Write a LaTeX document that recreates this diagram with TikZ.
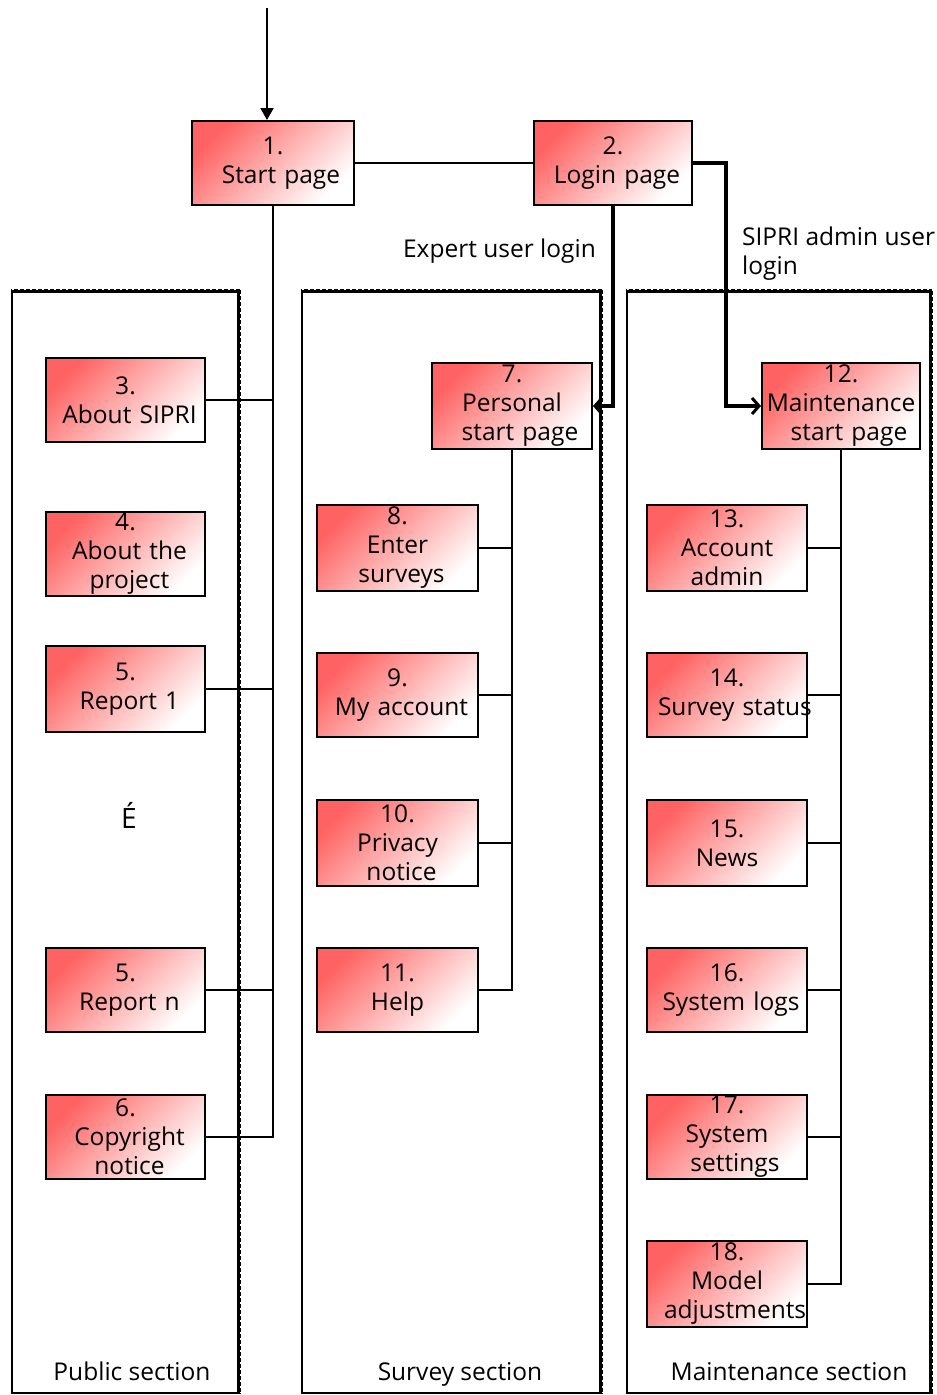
\documentclass[tikz,border=0pt]{standalone}
\usepackage{fontspec}
\setmainfont{Open Sans}
\usetikzlibrary{arrows.meta}
\definecolor{boxred}{RGB}{255,98,98}
\newcommand{\sh}{\hspace*{8pt}}
\newcommand{\shh}{\hspace*{16pt}}
\tikzset{
  pg/.style={draw, line width=2pt, align=center, inner sep=0pt,
    text width=156pt,
    minimum width=160pt, minimum height=85pt,
    top color=boxred, bottom color=white, shading angle=45,
    font=\fontsize{24.5}{29}\selectfont},
  conn/.style={line width=2pt},
  thickconn/.style={line width=4pt, -{Straight Barb[length=7pt,width=16pt,line width=3pt]}},
  secbase/.style={line width=2pt},
  secedge/.style={line width=4.5pt},
  secdots/.style={white, line width=0.9pt, dash pattern=on 1.5pt off 4.5pt},
  lbl/.style={font=\fontsize{24.5}{29}\selectfont, inner sep=0pt},
}
\begin{document}
\begin{tikzpicture}[x=1pt,y=-1pt]
\useasboundingbox[fill=white] (0,0) rectangle (937,1395);

% sections
\draw[secbase] (12,290) rectangle (240,1393);
\draw[secedge] (12,291) -- (239,291) -- (239,1393);
\draw[secdots] (12,289.2) -- (240.8,289.2) -- (240.8,1393);
\draw[secbase] (302,290) rectangle (602,1393);
\draw[secedge] (302,291) -- (601,291) -- (601,1393);
\draw[secdots] (302,289.2) -- (602.8,289.2) -- (602.8,1393);
\draw[secbase] (627,290) rectangle (932,1393);
\draw[secedge] (627,291) -- (931,291) -- (931,1393);
\draw[secdots] (627,289.2) -- (932.8,289.2) -- (932.8,1393);

\node[lbl, anchor=base] (spub) at (132,1380) {Public section};
\node[lbl, anchor=base] (ssur) at (460,1380) {Survey section};
\node[lbl, anchor=base] (smai) at (789,1380) {Maintenance section};

% top boxes
\node[pg, minimum width=162pt, minimum height=84pt] (b1) at (273,163) {1.\\ \shh Start page};
\node[pg, minimum width=158pt, minimum height=84pt] (b2) at (613,163) {2.\\ \sh Login page};

% public
\node[pg, minimum width=159pt, minimum height=84pt] (b3) at (125.5,400) {3.\\ \sh About SIPRI};
\node[pg, minimum width=159pt, minimum height=84pt] (b4) at (125.5,554) {4.\\ \sh About the\\ \sh project};
\node[pg, minimum width=159pt, minimum height=86pt] (b5a) at (125.5,689) {5.\\ \sh Report 1};
\node[font=\fontsize{28}{32}\selectfont] (dots) at (129,815) {É};
\node[pg, minimum width=159pt, minimum height=84pt] (b5b) at (125.5,990) {5.\\ \sh Report n};
\node[pg, minimum width=159pt, minimum height=84pt] (b6) at (125.5,1137) {6.\\ \sh Copyright\\ \sh notice};

% survey
\node[pg, minimum width=160pt, minimum height=86pt] (b7) at (512,406) {7.\\ Personal\\ \shh start page};
\node[pg, minimum width=161pt, minimum height=86pt] (b8) at (397.5,548) {8.\\ Enter\\ \sh surveys};
\node[pg, minimum width=161pt, minimum height=84pt] (b9) at (397.5,695) {9.\\ \sh My account};
\node[pg, minimum width=161pt, minimum height=86pt] (b10) at (397.5,843) {10.\\ Privacy\\ \sh notice};
\node[pg, minimum width=161pt, minimum height=84pt] (b11) at (397.5,990) {11.\\ Help};

% maintenance
\node[pg, minimum width=158pt, minimum height=86pt] (b12) at (841,406) {12.\\ Maintenance\\ \shh start page};
\node[pg, minimum width=160pt, minimum height=86pt] (b13) at (727,548) {13.\\ Account\\ admin};
\node[pg, minimum width=160pt, minimum height=84pt] (b14) at (727,695) {14.\\ \makebox[156pt][l]{\hspace*{9pt}Survey status}};
\node[pg, minimum width=160pt, minimum height=86pt] (b15) at (727,843) {15.\\ News};
\node[pg, minimum width=160pt, minimum height=84pt] (b16) at (727,990) {16.\\ \sh System logs};
\node[pg, minimum width=160pt, minimum height=84pt] (b17) at (727,1137) {17.\\ System\\ \shh settings};
\node[pg, minimum width=160pt, minimum height=86pt] (b18) at (727,1284) {18.\\ Model\\ \makebox[156pt][l]{\hspace*{15pt}adjustments}};

% incoming arrow
\coordinate (in) at (267,8);
\draw[conn, -{Triangle[length=12pt,width=13pt]}] (in) -- (in |- b1.north);

% start -- login
\draw[conn] (b1.east) -- (b2.west);

% public tree
\draw[conn] (b1.south) |- (b6.east);
\draw[conn] (b3.east) -- (b3.east -| b1.south);
\draw[conn] (b5a.east) -- (b5a.east -| b1.south);
\draw[conn] (b5b.east) -- (b5b.east -| b1.south);

% survey tree
\draw[conn] (b7.south) |- (b11.east);
\draw[conn] (b8.east) -- (b8.east -| b7.south);
\draw[conn] (b9.east) -- (b9.east -| b7.south);
\draw[conn] (b10.east) -- (b10.east -| b7.south);

% maintenance tree
\draw[conn] (b12.south) |- (b18.east);
\draw[conn] (b13.east) -- (b13.east -| b12.south);
\draw[conn] (b14.east) -- (b14.east -| b12.south);
\draw[conn] (b15.east) -- (b15.east -| b12.south);
\draw[conn] (b16.east) -- (b16.east -| b12.south);
\draw[conn] (b17.east) -- (b17.east -| b12.south);

% login arrows
\draw[thickconn] (b2.south) |- (b7.east);
\coordinate (k) at (726,0);
\draw[thickconn] (b2.east) -| (k |- b12.west) -- (b12.west);

\node[lbl, anchor=east] (lexp) at (596,251) {Expert user login};
\node[lbl, anchor=north west, align=left] (ladm) at (742,227) {SIPRI admin user\\login};
\end{tikzpicture}
\end{document}
